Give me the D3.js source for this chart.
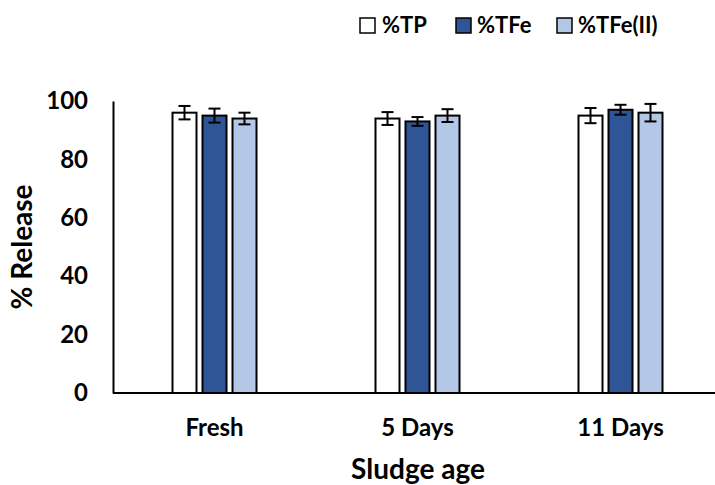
<!DOCTYPE html>
<html><head><meta charset="utf-8">
<script src="https://cdn.jsdelivr.net/npm/d3@7"></script>
<style>body{margin:0;background:#fff}svg{display:block}text{font-family:Lato,"Open Sans",sans-serif;font-weight:bold;fill:#000}</style>
</head><body><svg id="c" width="715" height="485"></svg>
<script>
const categories = ["Fresh", "5 Days", "11 Days"];
const seriesNames = ["%TP", "%TFe", "%TFe(II)"];
const tpValues = [96, 94, 95];
const tfeValues = [95, 93, 97];
const tfe2Values = [94, 95, 96];
const tpErr = [2.3, 2.2, 2.6];
const tfeErr = [2.4, 1.5, 1.7];
const tfe2Err = [2.0, 2.2, 3.0];
const yTicks = [0, 20, 40, 60, 80, 100];
const colors = ["#ffffff", "#2F5597", "#B4C7E7"];

(function () {
const values = [tpValues, tfeValues, tfe2Values];
const errs = [tpErr, tfeErr, tfe2Err];
const svg = d3.select("#c");
const mLeft = 113, mBottom = 393, mTop = 101;
const x = d3.scaleBand().domain(categories).range([mLeft, mLeft + 3 * 203]);
const y = d3.scaleLinear().domain([0, 100]).range([mBottom, mTop]);
const barW = 24, step = 30;

categories.forEach((c, i) => {
  const cx = x(c) + x.bandwidth() / 2;
  seriesNames.forEach((s, j) => {
    const v = values[j][i], e = errs[j][i];
    const bx = cx + (j - 1) * step - barW / 2;
    svg.append("rect").attr("x", bx).attr("y", y(v)).attr("width", barW).attr("height", y(0) - y(v))
      .attr("fill", colors[j]).attr("stroke", "#000").attr("stroke-width", 2);
    const mx = bx + barW / 2;
    const g = svg.append("g").attr("stroke", "#000").attr("stroke-width", 2);
    g.append("line").attr("x1", mx).attr("x2", mx).attr("y1", y(v + e)).attr("y2", y(v - e));
    g.append("line").attr("x1", mx - 6).attr("x2", mx + 6).attr("y1", y(v + e)).attr("y2", y(v + e));
    g.append("line").attr("x1", mx - 6).attr("x2", mx + 6).attr("y1", y(v - e)).attr("y2", y(v - e));
  });
});

const yAxis = d3.axisLeft(y).tickValues(yTicks).tickSize(0).tickPadding(25);
const gy = svg.append("g").attr("transform", `translate(${mLeft},0)`).call(yAxis);
gy.select(".domain").attr("stroke", "#000").attr("stroke-width", 2);
gy.selectAll("text").style("font-size", "24px").attr("font-family", null);

const xAxis = d3.axisBottom(x).tickSize(0).tickPadding(26);
const gx = svg.append("g").attr("transform", `translate(0,${mBottom})`).call(xAxis);
gx.select(".domain").attr("stroke", "#000").attr("stroke-width", 2).attr("d", `M${mLeft},0H715`);
gx.selectAll("text").style("font-size", "24px").attr("font-family", null);

svg.append("text").attr("transform", "translate(32,247) rotate(-90)").attr("text-anchor", "middle")
  .style("font-size", "28px").text("% Release");
svg.append("text").attr("x", 418).attr("y", 479).attr("text-anchor", "middle")
  .style("font-size", "28px").text("Sludge age");

const legX = [360, 456, 557];
const legTextX = [382, 477, 578];
seriesNames.forEach((s, j) => {
  svg.append("rect").attr("x", legX[j]).attr("y", 18).attr("width", 15).attr("height", 15)
    .attr("fill", colors[j]).attr("stroke", "#000").attr("stroke-width", 1.5);
  svg.append("text").attr("x", legTextX[j]).attr("y", 33).style("font-size", "22px").text(s);
});
})();
</script></body></html>
